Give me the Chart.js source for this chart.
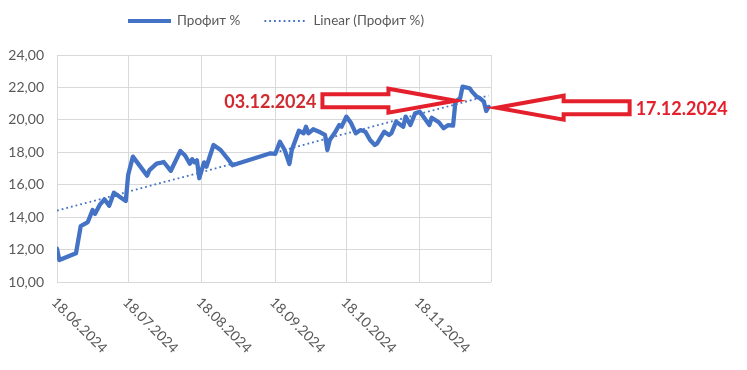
<!DOCTYPE html>
<html>
<head>
<meta charset="utf-8">
<script src="https://cdn.jsdelivr.net/npm/chart.js@4.4.1/dist/chart.umd.min.js"></script>
<style>
html, body { margin: 0; padding: 0; background: #fff; }
#wrap { width: 747px; height: 370px; }
</style>
</head>
<body>
<div id="wrap"><canvas id="myChart" width="747" height="370"></canvas></div>
<script>
// data
const dates = [
    '18.06.2024', '19.06.2024', '26.06.2024', '28.06.2024', '01.07.2024', '03.07.2024', '04.07.2024', '06.07.2024',
    '08.07.2024', '10.07.2024', '12.07.2024', '15.07.2024', '17.07.2024', '18.07.2024', '20.07.2024', '26.07.2024',
    '27.07.2024', '30.07.2024', '01.08.2024', '02.08.2024', '05.08.2024', '09.08.2024', '11.08.2024', '13.08.2024',
    '14.08.2024', '15.08.2024', '16.08.2024', '17.08.2024', '19.08.2024', '20.08.2024', '23.08.2024', '26.08.2024',
    '29.08.2024', '31.08.2024', '16.09.2024', '18.09.2024', '20.09.2024', '22.09.2024', '24.09.2024', '25.09.2024',
    '28.09.2024', '30.09.2024', '01.10.2024', '02.10.2024', '04.10.2024', '07.10.2024', '09.10.2024', '10.10.2024',
    '11.10.2024', '13.10.2024', '15.10.2024', '16.10.2024', '18.10.2024', '20.10.2024', '22.10.2024', '24.10.2024',
    '26.10.2024', '28.10.2024', '30.10.2024', '31.10.2024', '03.11.2024', '05.11.2024', '06.11.2024', '08.11.2024',
    '11.11.2024', '12.11.2024', '14.11.2024', '16.11.2024', '18.11.2024', '19.11.2024', '22.11.2024', '23.11.2024',
    '26.11.2024', '28.11.2024', '30.11.2024', '02.12.2024', '03.12.2024', '05.12.2024', '06.12.2024', '09.12.2024',
    '10.12.2024', '12.12.2024', '13.12.2024', '15.12.2024', '16.12.2024', '17.12.2024'
]
const profit = [
    12.05, 11.35, 11.77, 13.45, 13.70, 14.44, 14.20, 14.75,
    15.10, 14.70, 15.50, 15.20, 15.00, 16.60, 17.73, 16.56,
    16.90, 17.30, 17.36, 17.40, 16.86, 18.08, 17.80, 17.30,
    17.57, 17.38, 17.50, 16.40, 17.38, 17.11, 18.45, 18.14,
    17.60, 17.20, 17.94, 17.90, 18.65, 18.14, 17.28, 18.14,
    19.33, 19.17, 19.58, 19.17, 19.42, 19.23, 19.07, 18.14,
    18.76, 19.17, 19.68, 19.58, 20.20, 19.80, 19.17, 19.37,
    19.27, 18.76, 18.45, 18.55, 19.27, 19.07, 19.17, 19.89,
    19.58, 20.20, 19.68, 20.40, 20.50, 20.30, 19.68, 20.13,
    19.85, 19.48, 19.68, 19.64, 21.12, 21.33, 22.05, 21.95,
    21.74, 21.43, 21.37, 21.12, 20.55, 20.80
]
const trendDates = ['18.06.2024', '17.12.2024']
const trendValues = [14.40, 21.50]

const yTicks = [10, 12, 14, 16, 18, 20, 22, 24]
const xTickDates = ['18.06.2024', '18.07.2024', '18.08.2024', '18.09.2024', '18.10.2024', '18.11.2024', '18.12.2024']
const xTickLabels = ['18.06.2024', '18.07.2024', '18.08.2024', '18.09.2024', '18.10.2024', '18.11.2024']

const arrowDates = ['03.12.2024', '17.12.2024']
const arrowValues = [21.18, 20.75]

const blue = '#4472c4'
const red = '#e3202b'
const grey = '#595959'

function dayOf(s) {
    let [d, m, y] = s.split('.').map(Number)
    return (Date.UTC(y, m - 1, d) - Date.UTC(2024, 5, 18)) / 864e5
}

function blockArrow(ctx, tipX, tipY, dir) {
    let headLen = 67, headHalf = 12, shaftLen = 66, shaftHalf = 6.5
    let bx = tipX - dir * headLen
    let ex = bx - dir * shaftLen
    ctx.beginPath()
    ctx.moveTo(tipX, tipY)
    ctx.lineTo(bx, tipY - headHalf)
    ctx.lineTo(bx, tipY - shaftHalf)
    ctx.lineTo(ex, tipY - shaftHalf)
    ctx.lineTo(ex, tipY + shaftHalf)
    ctx.lineTo(bx, tipY + shaftHalf)
    ctx.lineTo(bx, tipY + headHalf)
    ctx.closePath()
    ctx.fillStyle = '#fff'
    ctx.fill()
    ctx.lineWidth = 4
    ctx.lineJoin = 'miter'
    ctx.strokeStyle = red
    ctx.stroke()
    return ex
}

const extras = {
    id: 'extras',
    afterDraw(chart) {
        let ctx = chart.ctx
        let xs = chart.scales.x, ys = chart.scales.y
        let area = chart.chartArea

        // x labels, rotated down to the right
        ctx.save()
        ctx.font = '14px Lato'
        ctx.fillStyle = grey
        xTickLabels.forEach(l => {
            let x = xs.getPixelForValue(dayOf(l))
            ctx.save()
            ctx.translate(x - 3, area.bottom + 18)
            ctx.rotate(Math.PI / 4)
            ctx.textAlign = 'left'
            ctx.textBaseline = 'middle'
            ctx.fillText(l, 0, 0)
            ctx.restore()
        })
        ctx.restore()

        // legend
        ctx.save()
        ctx.font = '13.5px Lato'
        let names = chart.data.datasets.map(d => d.label)
        let sample = 43, gap1 = 6, gap2 = 24
        let w0 = ctx.measureText(names[0]).width
        let w1 = ctx.measureText(names[1]).width
        let total = sample + gap1 + w0 + gap2 + sample + gap1 + w1
        let lx = (area.left + area.right) / 2 - total / 2 + 2
        let ly = 21
        ctx.strokeStyle = blue
        ctx.lineWidth = 4
        ctx.beginPath(); ctx.moveTo(lx, ly); ctx.lineTo(lx + sample, ly); ctx.stroke()
        ctx.fillStyle = grey
        ctx.textBaseline = 'middle'
        ctx.fillText(names[0], lx + sample + gap1, ly)
        let lx2 = lx + sample + gap1 + w0 + gap2
        ctx.lineWidth = 1.8
        ctx.setLineDash([1.8, 3])
        ctx.beginPath(); ctx.moveTo(lx2, ly); ctx.lineTo(lx2 + sample, ly); ctx.stroke()
        ctx.setLineDash([])
        ctx.fillText(names[1], lx2 + sample + gap1, ly)
        ctx.restore()

        // arrows with dates
        ctx.save()
        ctx.font = 'bold 18px Lato'
        ctx.textBaseline = 'middle'
        arrowDates.forEach((d, i) => {
            let dir = i === 0 ? 1 : -1
            let tx = xs.getPixelForValue(dayOf(d)) + (i === 0 ? 0 : 8)
            let ty = ys.getPixelForValue(arrowValues[i])
            let ex = blockArrow(ctx, tx, ty, dir)
            ctx.fillStyle = i === 0 ? '#d02a30' : red
            ctx.textAlign = dir === 1 ? 'right' : 'left'
            ctx.fillText(d, ex - dir * 6, ty + 1)
        })
        ctx.restore()
    }
}

const ctx = document.getElementById('myChart')
new Chart(ctx, {
    type: 'line',
    data: {
        datasets: [{
            label: 'Профит %',
            data: dates.map((d, i) => ({ x: dayOf(d), y: profit[i] })),
            borderColor: blue,
            borderWidth: 4.3,
            borderJoinStyle: 'round',
            borderCapStyle: 'round',
            pointRadius: 0,
            tension: 0,
            order: 1
        }, {
            label: 'Linear (Профит %)',
            data: trendDates.map((d, i) => ({ x: dayOf(d), y: trendValues[i] })),
            borderColor: blue,
            borderWidth: 1.8,
            borderDash: [1.8, 3],
            pointRadius: 0,
            order: 0
        }]
    },
    options: {
        responsive: false,
        animation: false,
        layout: { padding: { left: 0, right: 256, top: 55, bottom: 88 } },
        plugins: { legend: { display: false }, tooltip: { enabled: false } },
        scales: {
            x: {
                type: 'linear',
                min: 0,
                max: dayOf('18.12.2024'),
                afterBuildTicks: s => { s.ticks = xTickDates.map(d => ({ value: dayOf(d) })) },
                ticks: { display: false },
                grid: { color: '#d9d9d9', drawTicks: false },
                border: { display: false }
            },
            y: {
                min: 10,
                max: 24,
                afterBuildTicks: s => { s.ticks = yTicks.map(v => ({ value: v })) },
                afterFit: s => { s.width = 57 },
                ticks: {
                    font: { family: 'Lato', size: 14 },
                    color: grey,
                    padding: 13,
                    callback: v => v.toFixed(2).replace('.', ',')
                },
                grid: { color: '#d9d9d9', drawTicks: false },
                border: { display: false }
            }
        }
    },
    plugins: [extras]
})
</script>
</body>
</html>
